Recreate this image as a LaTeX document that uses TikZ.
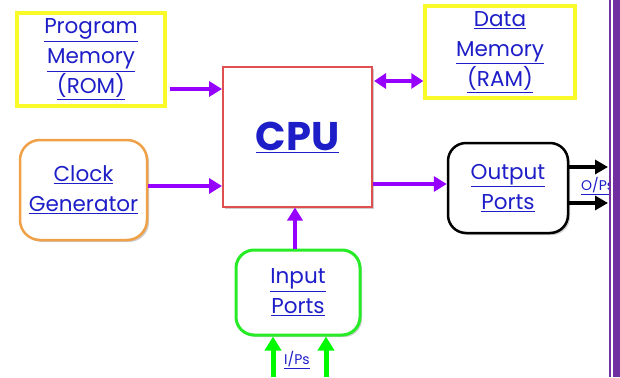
\documentclass[tikz,border=0pt]{standalone}
\usepackage{fontspec}
\setmainfont{Poppins}
\usetikzlibrary{arrows.meta,shadows}

\definecolor{linkblue}{RGB}{30,30,200}
\definecolor{busviolet}{RGB}{150,0,255}
\definecolor{memyellow}{RGB}{250,250,40}
\definecolor{clkorange}{RGB}{240,160,70}
\definecolor{cpured}{RGB}{225,80,80}
\definecolor{inpgreen}{RGB}{40,235,40}
\definecolor{sigGreen}{RGB}{0,250,0}
\definecolor{barpurple}{RGB}{112,48,160}

\tikzset{
  blk/.style={draw, minimum width=#1, align=center, inner sep=0pt,
    text=linkblue, font=\fontsize{21.5}{30}\selectfont,
    drop shadow={shadow xshift=2pt, shadow yshift=-2pt, opacity=0.2, fill=black}},
  membox/.style={blk=148pt, draw=memyellow, line width=3.5pt, fill=white},
  roundbox/.style={blk=#1, rounded corners=20pt, fill=white},
  bus/.style={draw=busviolet, line width=4.5pt,
    -{Triangle[length=13pt,width=15pt]}},
  dbus/.style={draw=busviolet, line width=4.5pt,
    {Triangle[length=12pt,width=15pt]}-{Triangle[length=12pt,width=15pt]}},
  outsig/.style={draw=black, line width=4pt,
    -{Triangle[length=13pt,width=14pt]}},
  insig/.style={draw=sigGreen, line width=5pt,
    -{Triangle[length=14pt,width=16pt]}},
  tag/.style={text=linkblue, font=\fontsize{14}{16}\selectfont, inner sep=0pt}
}
\newcommand{\lnk}[1]{\underline{#1}}

\begin{document}
\begin{tikzpicture}[x=1pt, y=-1pt]
  \useasboundingbox (0,0) rectangle (620,377);

  % memories
  \node[membox, minimum height=93pt] (prog) at (91,59.5)
    {\lnk{Program}\\\lnk{Memory}\\\lnk{(ROM)}};
  \node[membox, minimum height=92pt, minimum width=150pt] (data) at (500,52)
    {\lnk{Data}\\\lnk{Memory}\\\lnk{(RAM)}};

  % processor
  \node[draw=cpured, line width=2pt, minimum width=149pt, minimum height=139pt,
        fill=white, text=linkblue, font=\fontsize{40}{42}\selectfont\bfseries,
        drop shadow={shadow xshift=2pt, shadow yshift=-2pt, opacity=0.2, fill=black}]
    (cpu) at (297.5,137) {\lnk{CPU}};

  % clock, ports
  \node[roundbox=127pt, draw=clkorange, line width=2.5pt, minimum height=100pt]
    (clk) at (83.5,190) {\lnk{Clock}\\\lnk{Generator}};
  \node[roundbox=120pt, draw=black, line width=2.5pt, minimum height=90pt,
        rounded corners=18pt]
    (outp) at (508,188) {\lnk{Output}\\\lnk{Ports}};
  \node[roundbox=124pt, draw=inpgreen, line width=3pt, minimum height=85pt,
        rounded corners=18pt]
    (inp) at (298,292.5) {\lnk{Input}\\\lnk{Ports}};

  % buses to and from the CPU
  \draw[bus] ([xshift=3pt]prog.east |- 0,89) -- (cpu.west |- 0,89);
  \draw[bus] (clk.east |- 0,186) -- (cpu.west |- 0,186);
  \draw[dbus] ([xshift=1pt]cpu.east |- 0,81) -- (data.west |- 0,81);
  \draw[bus] (cpu.east |- 0,184) -- (outp.west |- 0,184);
  \draw[bus] (inp.north -| 295,0) -- (cpu.south -| 295,0);

  % external signals
  \coordinate (o1) at (608,167);
  \coordinate (o2) at (608,203);
  \draw[outsig] (outp.east |- o1) -- (o1);
  \draw[outsig] (outp.east |- o2) -- (o2);
  \node[tag, anchor=west] (olab) at (581,186) {\lnk{O/Ps}};

  \coordinate (i1) at (273,377);
  \coordinate (i2) at (326,377);
  \draw[insig] (i1) -- (inp.south -| i1);
  \draw[insig] (i2) -- (inp.south -| i2);
  \node[tag] (ilab) at (297,360) {\lnk{I/Ps}};

  % page edge band
  \fill[white] (609,0) rectangle (620,377);
  \fill[barpurple] (609,0) rectangle (611,377);
  \fill[barpurple] (613,0) rectangle (620,377);
\end{tikzpicture}
\end{document}
